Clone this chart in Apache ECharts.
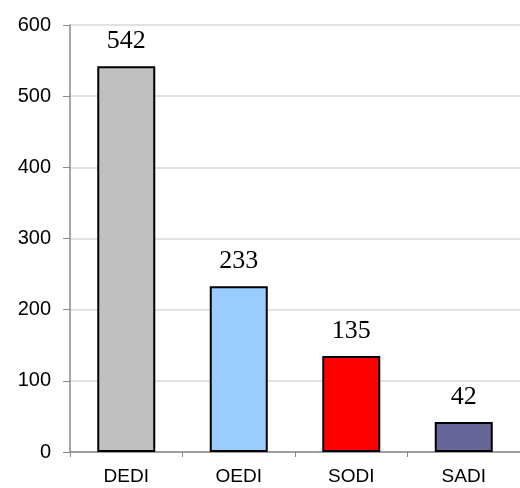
<!DOCTYPE html>
<html>
<head>
<meta charset="utf-8">
<script src="https://cdn.jsdelivr.net/npm/echarts@6/dist/echarts.min.js"></script>
<style>
  html, body { margin: 0; padding: 0; background: #fff; }
  #chart { width: 520px; height: 488px; }
</style>
</head>
<body>
<div id="chart"></div>
<script>
const categories = ['DEDI', 'OEDI', 'SODI', 'SADI']
const values = [542, 233, 135, 42]
const barColors = ['#c0c0c0', '#99ccff', '#ff0000', '#666699']
const yTicks = { min: 0, max: 600, interval: 100 }

const chart = echarts.init(document.getElementById('chart'))

chart.setOption({
  animation: false,
  grid: { left: 70, right: -7, top: 25, bottom: 36 },
  xAxis: {
    type: 'category',
    data: categories,
    axisLine: { lineStyle: { color: '#888', width: 1.5 } },
    axisTick: { show: true, length: 5, lineStyle: { color: '#888' } },
    axisLabel: { color: '#000', fontSize: 19, fontFamily: 'Liberation Sans, Arial', margin: 15 }
  },
  yAxis: {
    type: 'value',
    min: yTicks.min,
    max: yTicks.max,
    interval: yTicks.interval,
    axisLine: { show: true, lineStyle: { color: '#888', width: 1.5 } },
    axisTick: { show: true, length: 7, lineStyle: { color: '#888' } },
    axisLabel: { color: '#000', fontSize: 20, fontFamily: 'Liberation Sans, Arial', margin: 19 },
    splitLine: { lineStyle: { color: '#d9d9d9', width: 1.5 } }
  },
  series: [{
    type: 'bar',
    barWidth: 58,
    data: values.map((v, i) => ({
      value: v,
      itemStyle: { color: barColors[i], borderColor: '#000', borderWidth: 2 }
    })),
    label: {
      show: true,
      position: 'top',
      distance: 12,
      color: '#000',
      fontSize: 26,
      fontFamily: 'Liberation Serif, Times New Roman, serif'
    }
  }]
})
</script>
</body>
</html>
